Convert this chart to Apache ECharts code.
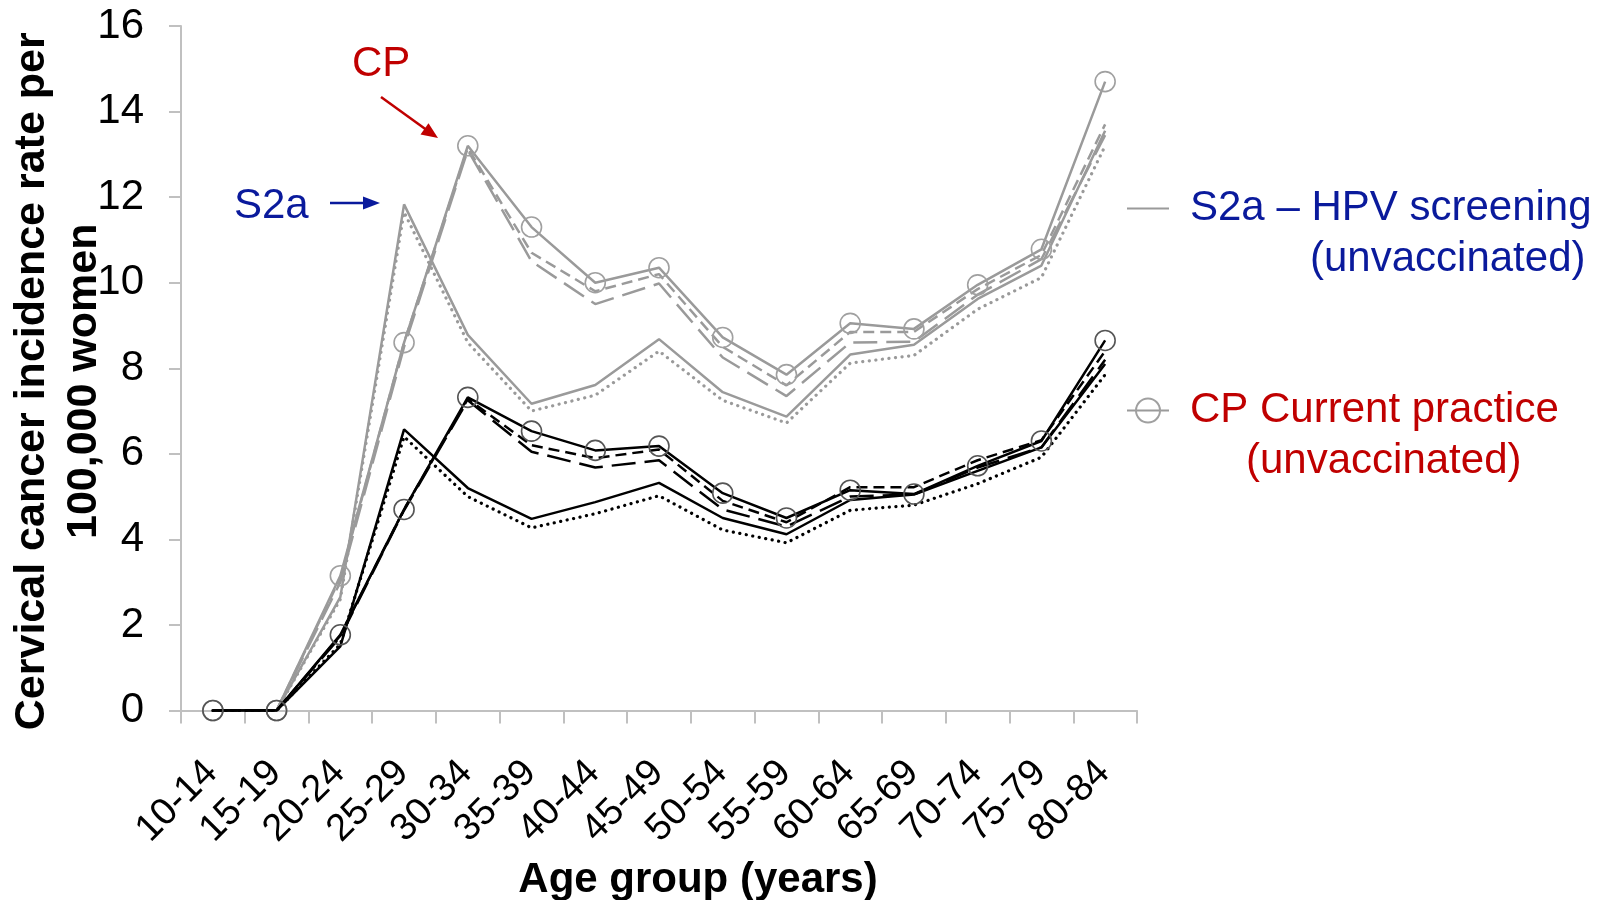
<!DOCTYPE html>
<html><head><meta charset="utf-8">
<script src="https://cdn.jsdelivr.net/npm/echarts@6/dist/echarts.min.js"></script>
<style>html,body{margin:0;padding:0;background:#fff}#c{width:1610px;height:900px}</style>
</head><body><div id="c"></div>
<script>
// ---------- data ----------
const categories = ['10-14','15-19','20-24','25-29','30-34','35-39','40-44','45-49','50-54','55-59','60-64','65-69','70-74','75-79','80-84'];
const yMin = 0, yMax = 16, yInterval = 2;

// unvaccinated (grey)
const cpUnvac          = [0, 0, 3.15, 8.6, 13.2, 11.3, 10.0, 10.35, 8.72, 7.85, 9.05, 8.92, 9.95, 10.78, 14.7];
const cpUnvacDash      = [0, 0, 3.1, 8.6, 13.15, 10.7, 9.8, 10.2, 8.5, 7.6, 8.85, 8.85, 9.85, 10.65, 13.7];
const cpUnvacLongDash  = [0, 0, 3.0, 8.5, 13.1, 10.5, 9.5, 9.98, 8.25, 7.35, 8.6, 8.62, 9.72, 10.55, 13.45];
const s2aUnvac         = [0, 0, 2.65, 11.83, 8.78, 7.17, 7.61, 8.68, 7.44, 6.87, 8.32, 8.55, 9.62, 10.4, 13.55];
const s2aUnvacDot      = [0, 0, 2.6, 11.65, 8.6, 7.0, 7.37, 8.4, 7.25, 6.72, 8.12, 8.3, 9.38, 10.12, 13.2];

// vaccinated (black)
const cpVac            = [0, 0, 1.77, 4.7, 7.32, 6.53, 6.08, 6.18, 5.08, 4.5, 5.15, 5.06, 5.72, 6.3, 8.65];
const cpVacDash        = [0, 0, 1.75, 4.7, 7.28, 6.2, 5.9, 6.1, 4.9, 4.4, 5.22, 5.22, 5.85, 6.32, 8.4];
const cpVacLongDash    = [0, 0, 1.72, 4.68, 7.25, 6.05, 5.68, 5.85, 4.7, 4.3, 5.0, 5.05, 5.68, 6.15, 8.2];
const s2aVac           = [0, 0, 1.5, 6.57, 5.2, 4.48, 4.87, 5.32, 4.5, 4.12, 4.92, 5.05, 5.6, 6.15, 8.1];
const s2aVacDot        = [0, 0, 1.55, 6.4, 5.0, 4.27, 4.6, 5.02, 4.22, 3.92, 4.68, 4.8, 5.3, 5.92, 7.85];

const S2A_NAME = 'S2a – HPV screening (unvaccinated)';
const CP_NAME = 'CP Current practice (unvaccinated)';

// ---------- styles ----------
const FONT = '"Liberation Sans", Arial, sans-serif';
const GREY = '#9a9a9a';
const BLACK = '#000000';
const AXIS = '#c0c0c0';
const BLUE = '#0a1a9c';
const RED = '#c00000';
const DASH = [11, 6];
const LONGDASH = [24, 9];
const DOT = [0.1, 6.5];

function line(name, data, color, type, opts) {
  opts = opts || {};
  return {
    name: name,
    type: 'line',
    data: data,
    symbol: opts.circle ? 'circle' : 'none',
    symbolSize: 20,
    showSymbol: !!opts.circle,
    lineStyle: {color: color, width: type === DOT ? 3.2 : 2.5, type: type || 'solid', cap: type === DOT ? 'round' : 'butt'},
    itemStyle: {color: 'rgba(0,0,0,0)', borderColor: opts.circle ? opts.markColor : 'rgba(0,0,0,0)', borderWidth: opts.circle ? 1.6 : 0},
    emphasis: {disabled: true},
    silent: true,
    z: opts.z || 2
  };
}

const chart = echarts.init(document.getElementById('c'), null, {renderer: 'canvas'});
chart.setOption({
  animation: false,
  backgroundColor: '#ffffff',
  textStyle: {fontFamily: FONT},
  grid: {left: 181, top: 26, width: 956, height: 684.5, containLabel: false, outerBoundsMode: 'none'},
  xAxis: {
    type: 'category',
    data: categories,
    boundaryGap: true,
    axisLine: {show: true, lineStyle: {color: AXIS, width: 2}},
    axisTick: {show: true, length: 13, alignWithLabel: false, lineStyle: {color: AXIS, width: 2}},
    splitLine: {show: false},
    axisLabel: {rotate: 45, fontSize: 38, color: '#000', margin: 28, align: 'right', verticalAlign: 'top', padding: [0, 21, 0, 0], interval: 0, fontFamily: FONT},
    name: 'Age group (years)',
    nameLocation: 'middle',
    nameGap: 149,
    nameMoveOverlap: false,
    nameTextStyle: {fontSize: 42, fontWeight: 'bold', color: '#000', fontFamily: FONT, padding: [0, 0, 0, 78]}
  },
  yAxis: {
    type: 'value',
    min: yMin, max: yMax, interval: yInterval,
    axisLine: {show: true, lineStyle: {color: AXIS, width: 2}},
    axisTick: {show: true, length: 12, lineStyle: {color: AXIS, width: 2}},
    splitLine: {show: false},
    axisLabel: {fontSize: 42, color: '#000', margin: 37, fontFamily: FONT},
    name: 'Cervical cancer incidence rate per\n100,000 women',
    nameLocation: 'middle',
    nameRotate: 90,
    nameGap: 71,
    nameMoveOverlap: false,
    nameTextStyle: {fontSize: 43, fontWeight: 'bold', color: '#000', lineHeight: 52, fontFamily: FONT, padding: [0, 26, 0, 0]}
  },
  legend: [
    {
      data: [S2A_NAME],
      left: 1126, top: 136.5, padding: 0,
      orient: 'vertical',
      itemWidth: 42, itemHeight: 30,
      selectedMode: false,
      formatter: function () { return '{e| }\n{a|S2a – HPV screening}\n{b|(unvaccinated)}'; },
      textStyle: {
        color: BLUE, fontSize: 42, fontFamily: FONT,
        rich: {
          e: {fontSize: 42, lineHeight: 51, color: BLUE},
          a: {fontSize: 42, lineHeight: 51, color: BLUE, padding: [0, 0, 0, 16]},
          b: {fontSize: 42, lineHeight: 51, color: BLUE, padding: [0, 0, 0, 136]}
        }
      }
    },
    {
      data: [CP_NAME],
      left: 1126, top: 338.5, padding: 0,
      orient: 'vertical',
      itemWidth: 42, itemHeight: 30,
      selectedMode: false,
      formatter: function () { return '{e| }\n{a|CP Current practice}\n{b|(unvaccinated)}'; },
      textStyle: {
        color: RED, fontSize: 42, fontFamily: FONT,
        rich: {
          e: {fontSize: 42, lineHeight: 51, color: RED},
          a: {fontSize: 42, lineHeight: 51, color: RED, padding: [0, 0, 0, 16]},
          b: {fontSize: 42, lineHeight: 51, color: RED, padding: [0, 0, 0, 72]}
        }
      }
    }
  ],
  series: [
    line('CP unvaccinated (variant, dashed)', cpUnvacDash, GREY, DASH),
    line('CP unvaccinated (variant, long dash)', cpUnvacLongDash, GREY, LONGDASH),
    line('S2a unvaccinated (variant, dotted)', s2aUnvacDot, GREY, DOT),
    line(S2A_NAME, s2aUnvac, GREY, 'solid'),
    line(CP_NAME, cpUnvac, GREY, 'solid', {circle: true, markColor: '#a0a0a0'}),
    line('CP vaccinated (dashed)', cpVacDash, BLACK, DASH, {z: 3}),
    line('CP vaccinated (long dash)', cpVacLongDash, BLACK, LONGDASH, {z: 3}),
    line('S2a vaccinated (dotted)', s2aVacDot, BLACK, DOT, {z: 3}),
    line('S2a vaccinated', s2aVac, BLACK, 'solid', {z: 3}),
    line('CP vaccinated', cpVac, BLACK, 'solid', {circle: true, markColor: '#555555', z: 3})
  ],
  graphic: [
    {type: 'text', silent: true, style: {text: 'CP', x: 352, y: 64, fill: RED, fontSize: 42, fontFamily: FONT, verticalAlign: 'middle', align: 'left'}},
    {type: 'line', silent: true, shape: {x1: 381, y1: 97, x2: 426, y2: 129.4}, style: {stroke: RED, lineWidth: 2.5}},
    {type: 'polygon', silent: true, shape: {points: [[438, 138], [420.5, 134.5], [428.5, 123.3]]}, style: {fill: RED}},
    {type: 'text', silent: true, style: {text: 'S2a', x: 234, y: 206, fill: BLUE, fontSize: 42, fontFamily: FONT, verticalAlign: 'middle', align: 'left'}},
    {type: 'line', silent: true, shape: {x1: 330, y1: 203, x2: 366, y2: 203}, style: {stroke: BLUE, lineWidth: 2.5}},
    {type: 'polygon', silent: true, shape: {points: [[380, 203], [363, 196.5], [363, 209.5]]}, style: {fill: BLUE}}
  ]
});
</script>
</body></html>
